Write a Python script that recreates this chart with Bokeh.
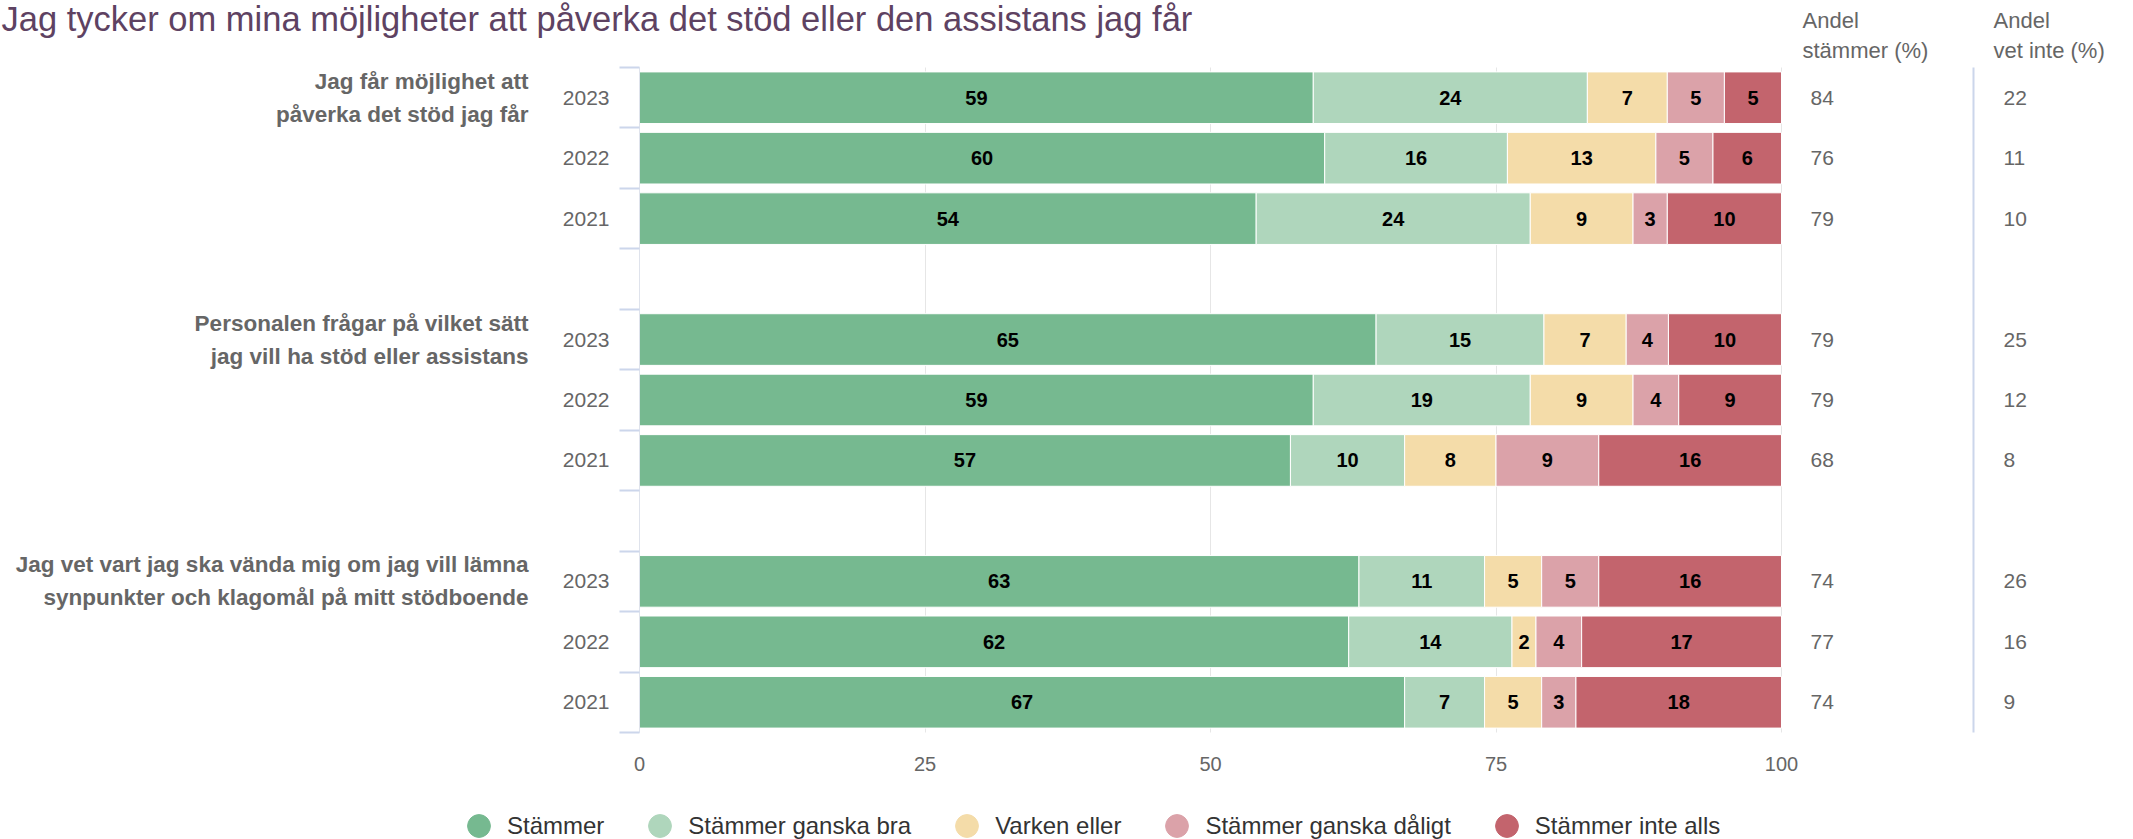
from bokeh.plotting import figure
from bokeh.models import Range1d, FixedTicker, Label, Legend, LegendItem, ColumnDataSource, Grid
from bokeh.embed import file_html
from bokeh.resources import INLINE
from bokeh.core.properties import value

# ---------------- data ----------------
title_text = "Jag tycker om mina möjligheter att påverka det stöd eller den assistans jag får"
questions = [
    "Jag får möjlighet att\npåverka det stöd jag får",
    "Personalen frågar på vilket sätt\njag vill ha stöd eller assistans",
    "Jag vet vart jag ska vända mig om jag vill lämna\nsynpunkter och klagomål på mitt stödboende",
]
years = ["2023", "2022", "2021"]
series = ["Stämmer", "Stämmer ganska bra", "Varken eller", "Stämmer ganska dåligt", "Stämmer inte alls"]
colors = ["#76b990", "#afd6bc", "#f4dca9", "#dba2a9", "#c3646d"]

# bar widths (%), rows: q1 2023, 2022, 2021, q2 2023, 2022, 2021, q3 2023, 2022, 2021
stammer       = [59, 60, 54, 64.5, 59, 57, 63, 62.1, 67]
ganska_bra    = [24, 16, 24, 14.7, 19, 10, 11, 14.3, 7]
varken        = [7, 13, 9, 7.2, 9, 8, 5, 2.1, 5]
ganska_daligt = [5, 5, 3, 3.7, 4, 9, 5, 4.0, 3]
inte_alls     = [5, 6, 10, 9.9, 9, 16, 16, 17.5, 18]

# shown data labels
lab_stammer       = [59, 60, 54, 65, 59, 57, 63, 62, 67]
lab_ganska_bra    = [24, 16, 24, 15, 19, 10, 11, 14, 7]
lab_varken        = [7, 13, 9, 7, 9, 8, 5, 2, 5]
lab_ganska_daligt = [5, 5, 3, 4, 4, 9, 5, 4, 3]
lab_inte_alls     = [5, 6, 10, 10, 9, 16, 16, 17, 18]

andel_stammer = [84, 76, 79, 79, 79, 68, 74, 77, 74]
andel_vet_inte = [22, 11, 10, 25, 12, 8, 26, 16, 9]

x_ticks = [0, 25, 50, 75, 100]

# ---------------- layout constants (pixels inside the figure) ----------------
FONT = "Liberation Sans"
W, H = 2133, 839
X0_PX, X100_PX = 639, 1781      # where 0 % and 100 % fall
TOP_PX, BOT_PX = 67, 732        # top / bottom of the category area

n_years = len(years)
rows = []
for qi in range(len(questions)):
    for yi in range(n_years):
        rows.append(qi * (n_years + 1) + yi)
n_slots = len(questions) * (n_years + 1) - 1
y_top, y_bot = -0.5, n_slots - 0.5

PX = (X100_PX - X0_PX) / 100.0
SLOT = (BOT_PX - TOP_PX) / n_slots
x_start = -X0_PX / PX
x_end = 100 + (W - X100_PX) / PX
y_range_top = y_top - TOP_PX / SLOT
y_range_bot = y_bot + (H - BOT_PX) / SLOT

p = figure(width=W, height=H, output_backend="svg", toolbar_location=None,
           x_range=Range1d(x_start, x_end), y_range=Range1d(y_range_bot, y_range_top),
           min_border_left=0, min_border_right=0, min_border_top=0, min_border_bottom=0)
p.outline_line_color = None
p.background_fill_color = "white"
p.border_fill_color = "white"

# ---------------- grid ----------------
p.ygrid.visible = False
p.xgrid.visible = False
if "cross_bounds" in Grid.properties():
    g = Grid(dimension=0, ticker=FixedTicker(ticks=x_ticks), bounds=(0, 100), cross_bounds=(y_top, y_bot),
             grid_line_color="#e6e6e6", grid_line_width=1)
    p.add_layout(g)
else:
    p.segment(x0=x_ticks, x1=x_ticks, y0=[y_top] * len(x_ticks), y1=[y_bot] * len(x_ticks),
              line_color="#e6e6e6", line_width=1)

# ---------------- bars ----------------
widths = [stammer, ganska_bra, varken, ganska_daligt, inte_alls]
labels = [lab_stammer, lab_ganska_bra, lab_varken, lab_ganska_daligt, lab_inte_alls]
left = [0.0] * len(rows)
legend_items = []
for name, col, w, lab in zip(series, colors, widths, labels):
    right = [l + v for l, v in zip(left, w)]
    src = ColumnDataSource(dict(y=rows, left=left, right=right,
                                mid=[(l + r) / 2 for l, r in zip(left, right)],
                                lab=[str(v) for v in lab]))
    p.hbar(y="y", left="left", right="right", height=0.854, source=src,
           fill_color=col, line_color="white", line_width=1)
    p.text(x="mid", y="y", text="lab", source=src, text_align="center", text_baseline="middle",
           text_font=value(FONT), text_font_size="20px", text_font_style="bold", text_color="#000000")
    # legend-only marker (no visible point)
    lr = p.scatter(x=[float("nan")], y=[float("nan")], marker="circle", size=23,
                   fill_color=col, line_color=col)
    legend_items.append(LegendItem(label=name, renderers=[lr]))
    left = right

# ---------------- right columns ----------------
col_src = ColumnDataSource(dict(y=rows, x=[100] * len(rows),
                                a=[str(v) for v in andel_stammer],
                                b=[str(v) for v in andel_vet_inte]))
p.text(x="x", y="y", text="a", source=col_src, x_offset=29, text_align="left", text_baseline="middle",
       text_font=value(FONT), text_font_size="21px", text_color="#666666")
p.text(x="x", y="y", text="b", source=col_src, x_offset=222, text_align="left", text_baseline="middle",
       text_font=value(FONT), text_font_size="21px", text_color="#666666")
sep_x = 100 + 192 / PX
p.segment(x0=[sep_x], x1=[sep_x], y0=[y_top], y1=[y_bot], line_color="#ccd6eb", line_width=2)

for xoff, l1, l2 in [(21, "Andel", "stämmer (%)"), (212, "Andel", "vet inte (%)")]:
    for yoff, t in [(47, l1), (17, l2)]:
        p.add_layout(Label(x=100, y=y_top, x_units="data", y_units="data", x_offset=xoff, y_offset=yoff,
                           text=t, text_align="left", text_baseline="middle", text_font=FONT,
                           text_font_size="22px", text_color="#666666"))

# ---------------- title ----------------
p.add_layout(Label(x=x_start, y=y_top, x_units="data", y_units="data", x_offset=1, y_offset=TOP_PX - 18,
                   text=title_text, text_align="left", text_baseline="alphabetic", text_font=FONT,
                   text_font_size="34.5px", text_color="#5e4262"))

# ---------------- group labels ----------------
for qi, q in enumerate(questions):
    p.add_layout(Label(x=0, y=rows[qi * n_years], x_units="data", y_units="data", x_offset=-111,
                       text=q, text_align="right", text_baseline="middle", text_font=FONT,
                       text_font_size="22.5px", text_font_style="bold", text_line_height=1.32,
                       text_color="#666666"))

# ---------------- axes ----------------
p.yaxis.fixed_location = 0
p.yaxis.bounds = (y_top, y_bot)
p.yaxis.ticker = FixedTicker(ticks=rows, minor_ticks=[b - 0.5 for b in range(n_slots + 1)])
p.yaxis.major_label_overrides = {r: years[i % n_years] for i, r in enumerate(rows)}
p.yaxis.major_tick_out = 0
p.yaxis.major_tick_in = 0
p.yaxis.minor_tick_out = 20
p.yaxis.minor_tick_in = 0
p.yaxis.minor_tick_line_color = "#ccd6eb"
p.yaxis.minor_tick_line_width = 2
p.yaxis.axis_line_color = "#dfe3ec"
p.yaxis.axis_line_width = 1
p.yaxis.major_label_standoff = 10
p.yaxis.major_label_text_font = FONT
p.yaxis.major_label_text_font_size = "21px"
p.yaxis.major_label_text_color = "#666666"

p.xaxis.fixed_location = y_bot
p.xaxis.bounds = (0, 100)
p.xaxis.ticker = FixedTicker(ticks=x_ticks)
p.xaxis.axis_line_color = None
p.xaxis.major_tick_line_color = None
p.xaxis.minor_tick_line_color = None
p.xaxis.major_label_standoff = 18
p.xaxis.major_label_text_font = FONT
p.xaxis.major_label_text_font_size = "20px"
p.xaxis.major_label_text_color = "#666666"

# ---------------- legend ----------------
legend = Legend(items=legend_items, orientation="horizontal", location=(450, H - 854),
                glyph_width=57, glyph_height=57, label_standoff=0, spacing=27, padding=0, margin=0,
                label_text_font=FONT, label_text_font_size="24px", label_text_color="#333333",
                border_line_color=None, background_fill_alpha=0)
p.add_layout(legend, "center")

open("out.html", "w").write(file_html(p, INLINE))
